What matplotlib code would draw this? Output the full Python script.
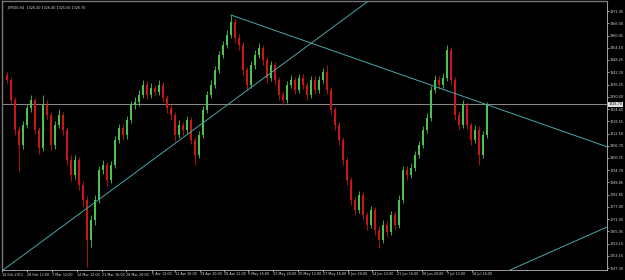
import numpy as np
import matplotlib.pyplot as plt

# _SP500 H4 candles (one candle per ~4 px)
first_open = 1340.9
closes = [1338.5, 1328.8, 1314.3, 1307.0, 1316.7, 1324.9, 1328.8, 1314.3, 1305.5, 1326.4,
          1321.5, 1307.0, 1316.7, 1321.5, 1314.3, 1299.7, 1292.4, 1299.7, 1287.6, 1280.3,
          1260.9, 1270.6, 1280.3, 1294.9, 1297.3, 1290.0, 1297.3, 1309.4, 1315.2, 1311.8,
          1319.1, 1326.4, 1327.8, 1331.2, 1336.1, 1331.2, 1334.6, 1332.7, 1336.1, 1329.8,
          1324.9, 1321.5, 1311.8, 1316.7, 1314.3, 1319.1, 1309.4, 1302.1, 1311.8, 1324.0,
          1331.2, 1336.1, 1343.4, 1350.6, 1355.5, 1360.3, 1366.6, 1358.9, 1355.5, 1343.4,
          1336.1, 1345.8, 1350.6, 1354.0, 1348.2, 1339.5, 1345.8, 1338.5, 1331.2, 1328.8,
          1336.1, 1338.5, 1333.7, 1339.5, 1336.1, 1331.2, 1338.5, 1333.7, 1338.5, 1342.4,
          1333.7, 1324.0, 1316.7, 1309.4, 1299.7, 1290.0, 1280.3, 1275.5, 1282.7, 1273.0,
          1268.2, 1275.5, 1265.8, 1260.9, 1268.2, 1264.8, 1273.0, 1268.2, 1280.3, 1294.9,
          1292.4, 1295.8, 1302.1, 1307.0, 1314.3, 1320.1, 1333.7, 1338.5, 1336.1, 1339.5,
          1353.1, 1338.5, 1321.5, 1316.7, 1326.4, 1316.7, 1309.4, 1314.3, 1302.1, 1311.8,
          1326.7]
highs = [1342.4, 1339.8, 1330.1, 1316.0, 1318.4, 1326.9, 1331.2, 1330.0, 1315.9, 1331.2,
         1328.9, 1322.8, 1318.5, 1324.2, 1323.1, 1315.6, 1301.9, 1302.0, 1301.1, 1289.6,
         1282.0, 1273.0, 1282.6, 1296.8, 1299.9, 1298.7, 1299.4, 1311.5, 1317.3, 1317.0,
         1321.2, 1328.2, 1330.1, 1333.4, 1338.3, 1337.8, 1336.9, 1336.3, 1338.6, 1337.5,
         1331.3, 1326.8, 1323.0, 1318.9, 1318.1, 1321.0, 1320.6, 1311.0, 1313.7, 1326.1,
         1333.3, 1338.4, 1345.5, 1352.7, 1357.6, 1362.6, 1370.0, 1368.0, 1361.0, 1357.0,
         1345.0, 1347.7, 1352.9, 1356.4, 1355.6, 1349.5, 1347.9, 1347.3, 1340.1, 1333.0,
         1338.2, 1340.7, 1340.0, 1341.6, 1341.2, 1337.6, 1340.4, 1340.2, 1340.6, 1344.3,
         1345.8, 1335.1, 1325.6, 1318.3, 1311.0, 1301.2, 1291.6, 1282.4, 1284.9, 1284.1,
         1274.6, 1277.6, 1277.0, 1267.5, 1270.4, 1270.0, 1275.1, 1274.8, 1282.5, 1297.0,
         1296.6, 1298.0, 1304.3, 1309.1, 1316.4, 1322.3, 1335.8, 1340.7, 1340.3, 1341.8,
         1355.5, 1354.6, 1340.0, 1323.4, 1328.6, 1328.0, 1318.3, 1316.5, 1316.0, 1313.9,
         1327.6]
lows = [1336.9, 1327.0, 1311.6, 1293.7, 1304.8, 1315.0, 1323.1, 1312.2, 1302.6, 1304.1,
        1319.4, 1304.7, 1305.2, 1315.0, 1311.9, 1297.2, 1289.6, 1290.5, 1285.0, 1277.2,
        1247.8, 1257.5, 1268.4, 1278.9, 1292.8, 1287.2, 1288.5, 1295.6, 1307.9, 1309.5,
        1310.0, 1317.6, 1324.6, 1326.1, 1329.9, 1329.4, 1329.8, 1330.5, 1331.0, 1327.9,
        1322.6, 1319.2, 1309.1, 1310.2, 1311.9, 1312.8, 1307.3, 1297.3, 1300.5, 1310.3,
        1322.4, 1329.6, 1334.8, 1341.9, 1349.0, 1353.8, 1358.7, 1356.6, 1353.2, 1340.6,
        1333.8, 1334.6, 1344.0, 1349.1, 1346.0, 1337.0, 1338.0, 1336.2, 1328.9, 1326.3,
        1327.5, 1334.4, 1331.6, 1332.2, 1334.0, 1329.0, 1330.0, 1331.5, 1332.3, 1337.1,
        1331.8, 1321.9, 1314.3, 1307.0, 1297.5, 1287.7, 1277.9, 1273.1, 1274.0, 1270.8,
        1265.9, 1266.7, 1263.4, 1257.0, 1259.6, 1262.5, 1263.2, 1266.0, 1266.9, 1278.8,
        1290.1, 1290.9, 1294.4, 1300.6, 1305.6, 1312.8, 1318.7, 1332.0, 1334.0, 1334.7,
        1338.2, 1336.1, 1319.3, 1314.2, 1315.3, 1314.5, 1307.1, 1308.0, 1297.3, 1300.7,
        1310.4]

bid_price = 1326.70
header = "_SP500,H4  1326.40 1326.40 1325.50 1326.70"

price_labels = ["1371.95", "1366.00", "1360.05", "1354.10", "1348.25", "1342.20",
                "1336.25", "1330.40", "1324.40", "1318.55", "1312.50", "1306.70",
                "1300.75", "1294.70", "1288.85", "1282.85", "1277.00", "1271.00",
                "1265.05", "1259.10", "1253.15", "1247.30"]

time_labels = ["18 Feb 2011", "28 Feb 12:00", "7 Mar 12:00", "14 Mar 12:00", "21 Mar 16:00",
               "28 Mar 20:00", "5 Apr 12:00", "12 Apr 16:00", "19 Apr 20:00", "28 Apr 12:00",
               "5 May 16:00", "12 May 20:00", "20 May 12:00", "27 May 16:00", "6 Jun 20:00",
               "14 Jun 12:00", "21 Jun 16:00", "28 Jun 20:00", "7 Jul 12:00", "14 Jul 16:00"]
time_label_bars = [-1.2, 5, 11.2, 17.5, 23.7, 29.8, 36.2, 42, 48.2, 54.2,
                   60.2, 66.5, 72.8, 79, 85.2, 91.2, 97.5, 103.8, 110, 116.2]

# trendlines, two anchor points each (bar, price)
down_line = [(56, 1370.0), (120, 1326.5)]
up_line = [(20, 1276.3), (80, 1362.0)]
up_line2 = [(130, 1250.0), (150, 1267.2)]

BG = 'black'
FG = '#d8d8d8'
BULL = '#4cc34c'
BEAR = '#cc1515'
LINE = '#48a8a8'
FS = 2.4

opens = [first_open] + closes[:-1]
o = np.array(opens)
c = np.array(closes)
x = np.arange(len(closes))

fig = plt.figure(figsize=(6.25, 2.8), dpi=100, facecolor=BG)
ax = fig.add_axes([2 / 625, 10 / 280, 605 / 625, 269 / 280])
ax.set_facecolor(BG)

up = c >= o
colors = np.where(up, BULL, BEAR)
ax.vlines(x, lows, highs, colors=colors, linewidth=0.6, zorder=3)
ax.bar(x, np.maximum(np.abs(c - o), 0.3), bottom=np.minimum(o, c), width=0.55,
       color=colors, linewidth=0, zorder=4)

ax.axhline(bid_price, color='#8c8c8c', linewidth=0.7, zorder=2)

# descending ray starts at the top and runs off to the right
(x1, y1), (x2, y2) = down_line
slope = (y2 - y1) / (x2 - x1)
ax.plot([x1, 150], [y1, y1 + slope * (150 - x1)], color=LINE, linewidth=0.7, zorder=5)
ax.axline(up_line[0], up_line[1], color=LINE, linewidth=0.7, zorder=5)
ax.axline(up_line2[0], up_line2[1], color=LINE, linewidth=0.7, zorder=5)

ax.set_xlim(-1.25, 150)
ax.set_ylim(1246.35, 1376.8)

ax.yaxis.tick_right()
ax.set_yticks([float(v) for v in price_labels])
ax.set_yticklabels(price_labels)
ax.set_xticks(time_label_bars)
ax.set_xticklabels(time_labels, ha='left')
ax.tick_params(axis='both', colors=FG, labelsize=FS, length=1.2, width=0.5, pad=0.6)

for side in ['left', 'top']:
    ax.spines[side].set_color('#777777')
    ax.spines[side].set_linewidth(1)
for side in ['right', 'bottom']:
    ax.spines[side].set_color('#bbbbbb')
    ax.spines[side].set_linewidth(0.6)

ax.text(0.006, 0.985, header, transform=ax.transAxes, color=FG, fontsize=FS,
        va='top', ha='left')

# bid price tag on the price scale
ax.annotate(f"{bid_price:.2f}", xy=(1, bid_price), xycoords=('axes fraction', 'data'),
            xytext=(1.2, 0), textcoords='offset points', va='center', ha='left',
            fontsize=FS, color='black',
            bbox=dict(boxstyle='square,pad=0.1', fc='#e0e0e0', ec='none'))

fig.savefig('out.png', dpi=100, facecolor=BG)
